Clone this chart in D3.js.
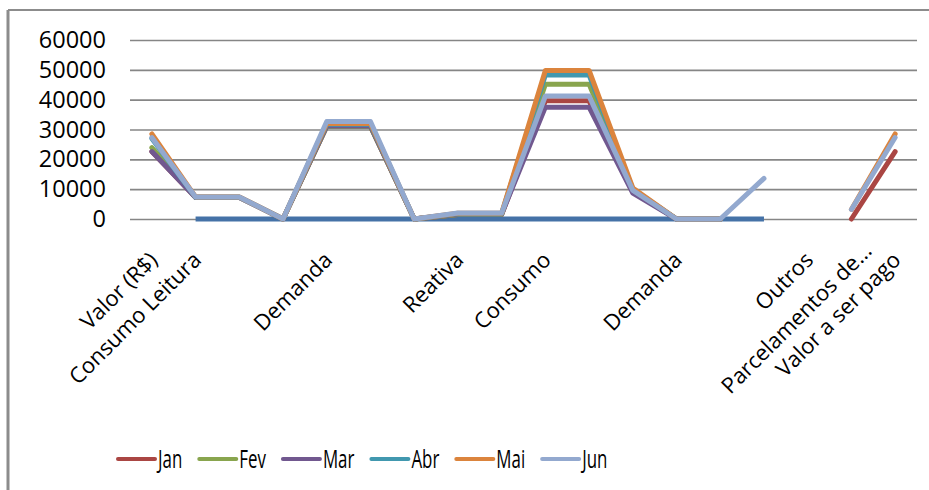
<!DOCTYPE html>
<html>
<head>
<meta charset="utf-8">
<script src="https://cdn.jsdelivr.net/npm/d3@7"></script>
<style>
  html, body { margin: 0; padding: 0; background: #fff; }
  svg { display: block; }
  text { font-family: "Open Sans", "Noto Sans", sans-serif; fill: #000; }
</style>
</head>
<body>
<div id="chart"></div>
<script>
// Bill items (rows of the sheet); blank names are rows without a caption
const categories = [
  "Valor (R$)", "Consumo Leitura", "", "", "Demanda", "", "", "Reativa", "",
  "Consumo", "", "", "Demanda", "", "", "Outros", "Parcelamentos de...", "Valor a ser pago"
];

// Unnamed helper series (first column) – not listed in the legend
const baseValues = [null, 0, 0, 0, 0, 0, 0, 0, 0, 0, 0, 0, 0, 0, 0, null, null, null];

const months = ["Jan", "Fev", "Mar", "Abr", "Mai", "Jun"];
const jan = [22600, 7300, 7300, 0, 31000, 31000, 0, 1500, 1500, 39600, 39600, 9200, 0, 0, null, null, 0, 22600];
const fev = [23900, 7300, 7300, 0, 31000, 31000, 0, 1500, 1500, 45200, 45200, 9800, 0, 0, null, null, null, null];
const mar = [22600, 7200, 7200, 0, 31200, 31200, 0, 1700, 1700, 37500, 37500, 8700, 0, 0, null, null, null, null];
const abr = [27000, 7300, 7300, 0, 31800, 31800, 0, 1800, 1800, 48300, 48300, 10000, 0, 0, null, null, null, null];
const mai = [28500, 7400, 7400, 0, 32000, 32000, 0, 1900, 1900, 49800, 49800, 10400, 0, 0, null, null, 3200, 28500];
const jun = [27300, 7400, 7400, 0, 32700, 32700, 0, 2000, 2000, 41200, 41200, 9600, 0, 0, 13600, null, 3200, 27300];

const yTicks = [0, 10000, 20000, 30000, 40000, 50000, 60000];

const baseColor = "#4572A7";
const monthColors = ["#AA4643", "#89A54E", "#71588F", "#4198AF", "#DB843D", "#93A9CF"];

const series = [jan, fev, mar, abr, mai, jun].map((values, i) => ({
  name: months[i], values, color: monthColors[i]
}));

const W = 929, H = 490;
const plot = { left: 130, right: 917, top: 40, bottom: 219 };

const svg = d3.select("#chart").append("svg")
  .attr("width", W).attr("height", H);

// chart frame (top and left edges)
const frame = svg.append("g").attr("stroke", "#8c8c8c").attr("fill", "none");
frame.append("line").attr("x1", 8).attr("x2", W).attr("y1", 10).attr("y2", 10).attr("stroke-width", 2);
frame.append("line").attr("x1", 8).attr("x2", 8).attr("y1", 10).attr("y2", H).attr("stroke-width", 3);

const x = d3.scalePoint()
  .domain(d3.range(categories.length))
  .range([plot.left, plot.right])
  .padding(0.5);

const y = d3.scaleLinear()
  .domain([0, 60000])
  .range([plot.bottom, plot.top]);

// horizontal gridlines + value labels
const yAxis = d3.axisLeft(y)
  .tickValues(yTicks)
  .tickFormat(d3.format("d"))
  .tickSize(-(plot.right - plot.left))
  .tickPadding(24);

const gy = svg.append("g")
  .attr("transform", `translate(${plot.left},0)`)
  .call(yAxis);
gy.select(".domain").remove();
gy.selectAll(".tick line").attr("stroke", "#868686").attr("stroke-width", 1.6);
gy.selectAll(".tick text")
  .attr("font-size", 23.5)
  .attr("fill", "#111");

// category labels, rotated -45°; a truncated caption slides further along its slot
const xAxis = d3.axisBottom(x)
  .tickFormat(i => categories[i])
  .tickSize(0)
  .tickPadding(0);

const gx = svg.append("g")
  .attr("transform", `translate(0,${plot.bottom})`)
  .call(xAxis);
gx.select(".domain").remove();
gx.selectAll(".tick text")
  .attr("font-size", 22)
  .attr("fill", "#111")
  .attr("text-anchor", "end")
  .attr("y", 0)
  .attr("dy", "0.35em")
  .attr("transform", i => {
    const slide = categories[i].endsWith("...") ? "translate(17,4)" : "";
    return `translate(1,37) rotate(-45) ${slide}`;
  });

const line = d3.line()
  .defined(d => d != null)
  .x((d, i) => x(i))
  .y(d => y(d));

const lines = svg.append("g")
  .attr("fill", "none")
  .attr("stroke-width", 5)
  .attr("stroke-linejoin", "round")
  .attr("stroke-linecap", "round");

lines.append("path")
  .attr("d", line(baseValues))
  .attr("stroke", baseColor)
  .attr("stroke-linecap", "butt");

lines.selectAll(".month")
  .data(series)
  .join("path")
  .attr("class", "month")
  .attr("d", s => line(s.values))
  .attr("stroke", s => s.color);

// legend
const legend = svg.append("g").attr("transform", "translate(118,459)");
let lx = 0;
const squeeze = 0.65;
series.forEach(s => {
  const item = legend.append("g").attr("transform", `translate(${lx},0)`);
  item.append("line")
    .attr("x1", 0).attr("x2", 37)
    .attr("stroke", s.color)
    .attr("stroke-width", 4)
    .attr("stroke-linecap", "round");
  const t = item.append("text")
    .attr("font-size", 26)
    .attr("dy", "0.36em")
    .attr("transform", `translate(40,0) scale(${squeeze},1)`)
    .text(s.name);
  const tw = t.node().getComputedTextLength() * squeeze;
  lx += 40 + tw + 17;
});
</script>
</body>
</html>
